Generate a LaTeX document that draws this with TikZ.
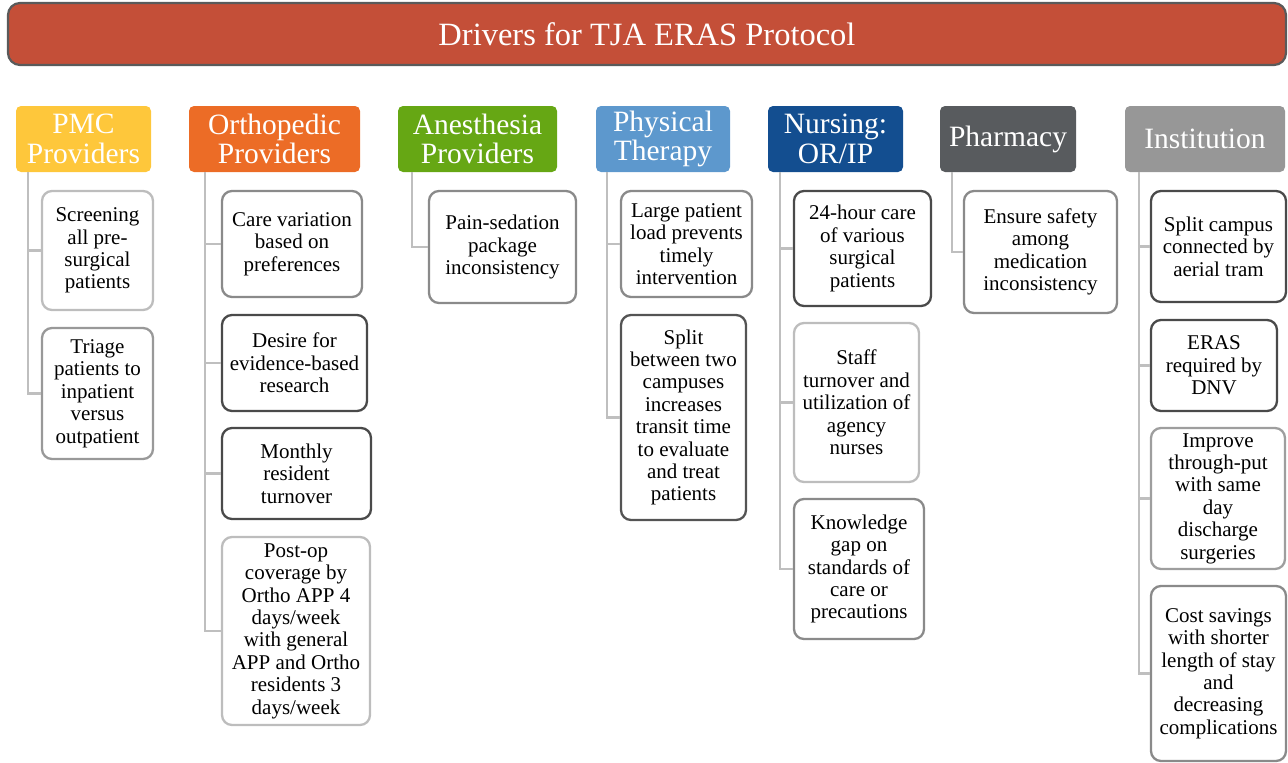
\documentclass[tikz,border=0pt]{standalone}
\usepackage{fontspec}
\setmainfont{Liberation Serif}
\definecolor{titlered}{HTML}{C44F38}
\definecolor{titleedge}{HTML}{5A5A5A}
\definecolor{pmc}{HTML}{FEC73B}
\definecolor{ortho}{HTML}{EC6C26}
\definecolor{anes}{HTML}{66A714}
\definecolor{pt}{HTML}{5D98CD}
\definecolor{nurse}{HTML}{134E90}
\definecolor{pharm}{HTML}{585B5E}
\definecolor{inst}{HTML}{979797}
\definecolor{lightedge}{HTML}{BDBDBD}
\definecolor{midedge}{HTML}{8A8A8A}
\definecolor{darkedge}{HTML}{4A4A4A}
\definecolor{connline}{HTML}{BFBFBF}
\tikzset{
  titlebar/.style={rectangle, rounded corners=12pt, fill=titlered, draw=titleedge,
    line width=2.2pt, text=white, font=\fontsize{32.5}{35}\selectfont},
  header/.style={rectangle, rounded corners=5pt, fill=#1, text=white, align=center,
    inner sep=0pt, font=\fontsize{29.5}{29.5}\selectfont},
  item/.style={rectangle, rounded corners=10pt, draw=#1, fill=white, line width=2.3pt,
    align=center, inner sep=0pt, font=\fontsize{21}{22.4}\selectfont},
  conn/.style={draw=connline, line width=2.6pt},
}
\begin{document}
\begin{tikzpicture}[x=1pt, y=-1pt]
\useasboundingbox (0,0) rectangle (1288,763);

% title bar
\node[titlebar, minimum width=1278pt, minimum height=62pt] (title) at (647,34) {Drivers for TJA ERAS Protocol};

% column headers
\node[header=pmc,   minimum width=135pt, minimum height=66pt] (h1) at (83.5,139) {PMC\\Providers};
\node[header=ortho, minimum width=171pt, minimum height=66pt] (h2) at (274.5,139) {Orthopedic\\Providers};
\node[header=anes,  minimum width=159pt, minimum height=66pt] (h3) at (477.5,139) {Anesthesia\\Providers};
\node[header=pt,    minimum width=134pt, minimum height=66pt] (h4) at (663,139) {Physical\\Therapy};
\node[header=nurse, minimum width=135pt, minimum height=66pt] (h5) at (835.5,139) {Nursing:\\OR/IP};
\node[header=pharm, minimum width=136pt, minimum height=66pt] (h6) at (1008,139) {Pharmacy};
\node[header=inst,  minimum width=160pt, minimum height=66pt] (h7) at (1205,139) {Institution};

% PMC providers
\node[item=lightedge, minimum width=111pt, minimum height=119pt] (a1) at (97.5,250.5) {Screening\\all pre-\\surgical\\patients};
\node[item=midedge!70!lightedge, minimum width=111pt, minimum height=131pt] (a2) at (97.5,393.5) {Triage\\patients to\\inpatient\\versus\\outpatient};

% Orthopedic providers
\node[item=midedge, minimum width=140pt, minimum height=106pt] (b1) at (292,244) {Care variation\\based on\\preferences};
\node[item=darkedge, minimum width=145pt, minimum height=96pt] (b2) at (294.5,363) {Desire for\\evidence-based\\research};
\node[item=darkedge, minimum width=149pt, minimum height=91pt] (b3) at (296.5,473.5) {Monthly\\resident\\turnover};
\node[item=lightedge, minimum width=148pt, minimum height=188pt] (b4) at (296,631) {Post-op\\coverage by\\Ortho APP 4\\days/week\\with general\\APP and Ortho\\residents 3\\days/week};

% Anesthesia providers
\node[item=midedge, minimum width=147pt, minimum height=112pt] (c1) at (502.5,247) {Pain-sedation\\package\\inconsistency};

% Physical therapy
\node[item=midedge, minimum width=131pt, minimum height=106pt] (d1) at (686.5,244) {Large patient\\load prevents\\timely\\intervention};
\node[item=darkedge!85!midedge, minimum width=125pt, minimum height=205pt] (d2) at (683.5,417.5) {Split\\between two\\campuses\\increases\\transit time\\to evaluate\\and treat\\patients};

% Nursing
\node[item=darkedge, minimum width=137pt, minimum height=115pt] (e1) at (862.5,248.5) {24-hour care\\of various\\surgical\\patients};
\node[item=lightedge, minimum width=125pt, minimum height=159pt] (e2) at (856.5,402.5) {Staff\\turnover and\\utilization of\\agency\\nurses};
\node[item=midedge, minimum width=130pt, minimum height=140pt] (e3) at (859,569) {Knowledge\\gap on\\standards of\\care or\\precautions};

% Pharmacy
\node[item=midedge, minimum width=153pt, minimum height=122pt] (f1) at (1040.5,252) {Ensure safety\\among\\medication\\inconsistency};

% Institution
\node[item=darkedge, minimum width=135pt, minimum height=111pt] (g1) at (1218.5,246.5) {Split campus\\connected by\\aerial tram};
\node[item=darkedge, minimum width=126pt, minimum height=91pt] (g2) at (1214,365.5) {ERAS\\required by\\DNV};
\node[item=midedge!60!lightedge, minimum width=134pt, minimum height=141pt] (g3) at (1218,498.5) {Improve\\through-put\\with same\\day\\discharge\\surgeries};
\node[item=midedge, minimum width=135pt, minimum height=175pt] (g4) at (1218.5,673.5) {Cost savings\\with shorter\\length of stay\\and\\decreasing\\complications};

% connectors from each header down and across to its items
\foreach \h/\dx/\list in {h1/12/{a1,a2}, h2/16/{b1,b2,b3,b4}, h3/14/{c1}, h4/11/{d1,d2},
                          h5/12/{e1,e2,e3}, h6/12/{f1}, h7/14/{g1,g2,g3,g4}} {
  \foreach \b in \list {
    \draw[conn] ([xshift=\dx pt]\h.south west) |- (\b.west);
  }
}
\end{tikzpicture}
\end{document}
